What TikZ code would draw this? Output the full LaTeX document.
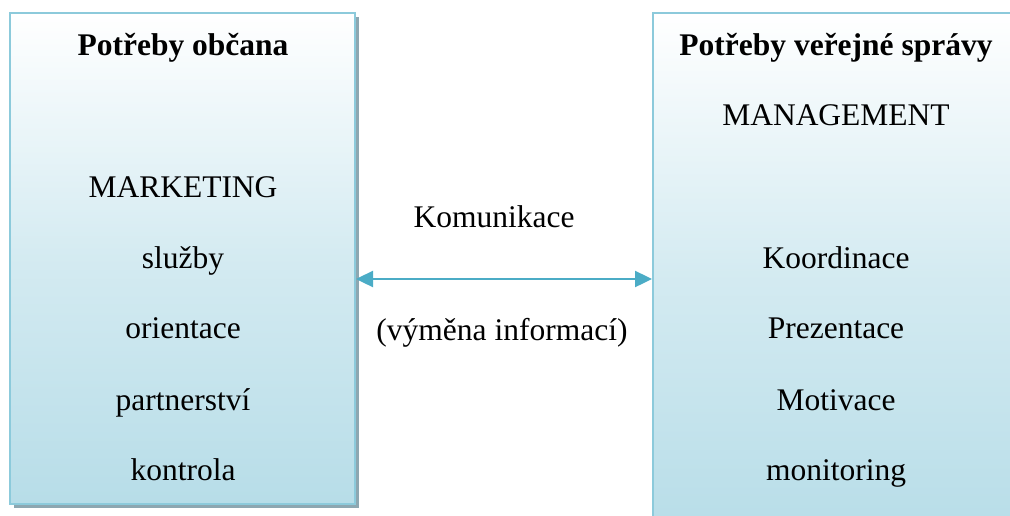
\documentclass[tikz,border=0pt]{standalone}
\usepackage{fontspec}
\setmainfont{Liberation Serif}
\usetikzlibrary{arrows.meta}
\definecolor{frameblue}{HTML}{8CCADB}
\definecolor{fillblue}{HTML}{B7DDE8}
\definecolor{shadowgrey}{HTML}{8DA7B1}
\definecolor{arrowblue}{HTML}{4BACC6}
\begin{document}
\begin{tikzpicture}[
  label/.style={font=\fontsize{31.5}{36}\selectfont,anchor=base,inner sep=0pt},
  heading/.style={label,font=\fontsize{31.5}{36}\selectfont\bfseries},
  head/.style={Triangle[length=17pt,width=16pt]}]
\begin{scope}[x=1pt,y=-1pt]
\useasboundingbox (0,0) rectangle (1010,515);
\clip (0,0) rectangle (1010,515);
% left panel with its drop shadow
\fill[shadowgrey] (14,17) rectangle (359,508);
\shade[top color=white,bottom color=fillblue,middle color=white!40!fillblue] (10,13) rectangle (355,504);
\draw[frameblue,line width=2.5pt] (10,13) rectangle (355,504);
% right panel, running past the edge of the page
\fill[shadowgrey] (657,17) rectangle (1030,540);
\shade[top color=white,bottom color=fillblue,middle color=white!40!fillblue] (653,13) rectangle (1026,536);
\draw[frameblue,line width=2.5pt] (653,13) rectangle (1026,536);
\node[coordinate] (lp) at (356,279) {};
\node[coordinate] (rp) at (652,279) {};
% left panel texts
\node[heading] (t1) at (183,55) {Potřeby občana};
\node[label] (l1) at (183,197) {MARKETING};
\node[label] (l2) at (183,268) {služby};
\node[label] (l3) at (183,338) {orientace};
\node[label] (l4) at (183,410) {partnerství};
\node[label] (l5) at (183,480) {kontrola};
% right panel texts
\node[heading] (t2) at (836,55) {Potřeby veřejné správy};
\node[label] (r0) at (836,125) {MANAGEMENT};
\node[label] (r1) at (836,268) {Koordinace};
\node[label] (r2) at (836,338) {Prezentace};
\node[label] (r3) at (836,410) {Motivace};
\node[label] (r4) at (836,480) {monitoring};
% exchange between the two sides
\node[label] (k1) at (494,227) {Komunikace};
\node[label] (k2) at (502,340) {(výměna informací)};
\draw[arrowblue,line width=2.4pt,{Triangle[length=17pt,width=16pt]}-{Triangle[length=17pt,width=16pt]}] (lp) -- (rp);
\end{scope}
\end{tikzpicture}
\end{document}
